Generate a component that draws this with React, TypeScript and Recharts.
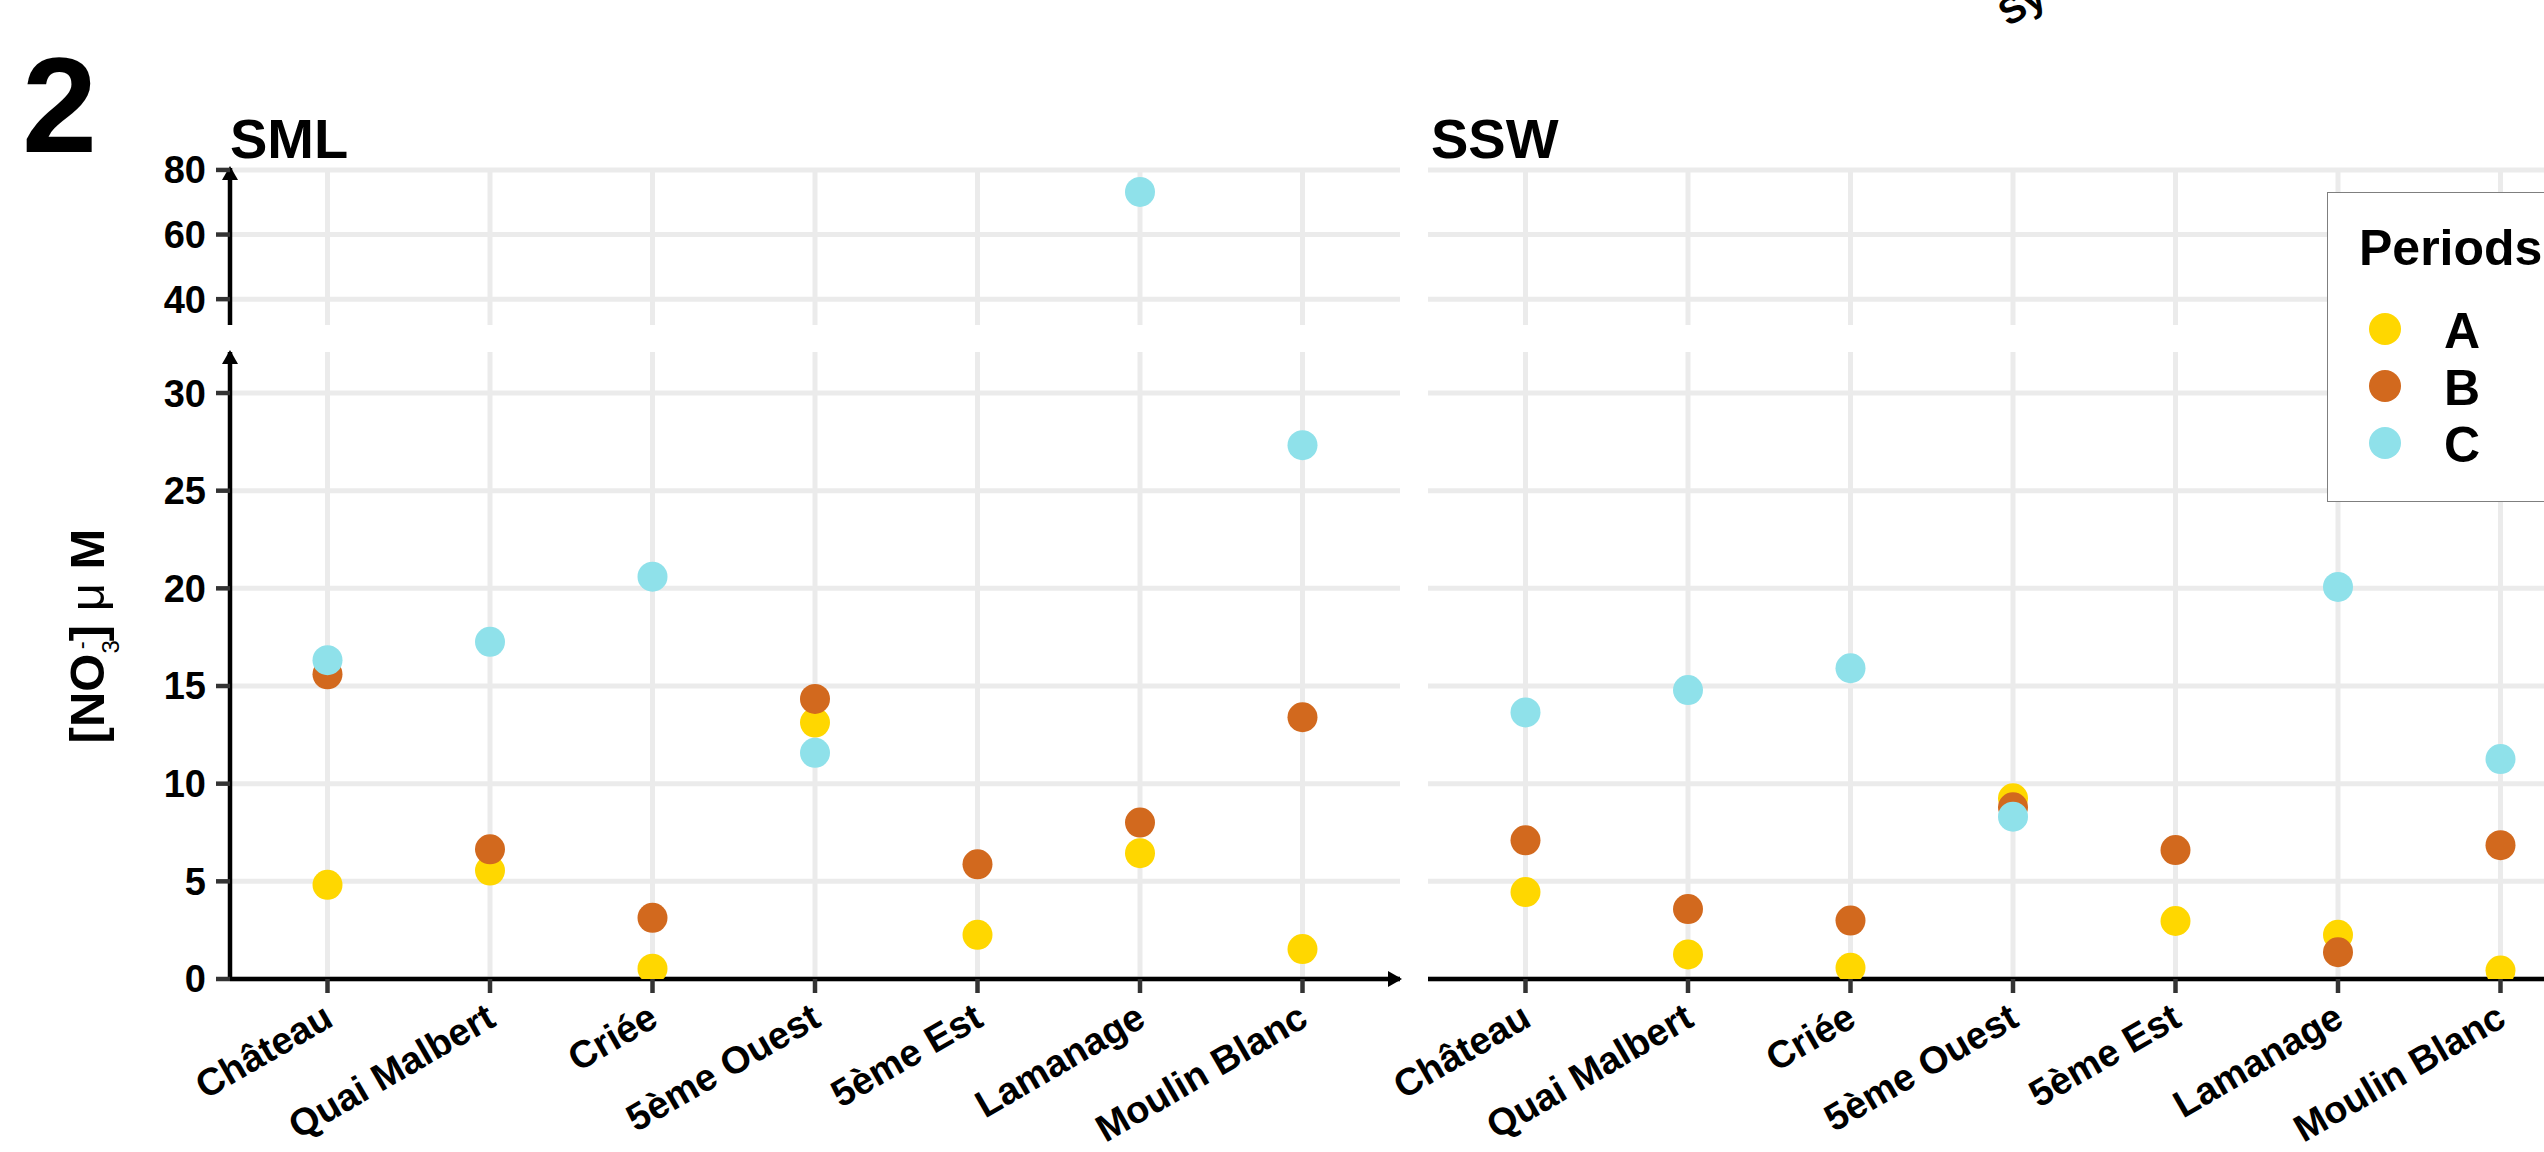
import React from "react";
import { CartesianGrid, Scatter, ScatterChart, XAxis, YAxis } from "recharts";

const sites = ["Château", "Quai Malbert", "Criée", "5ème Ouest", "5ème Est", "Lamanage", "Moulin Blanc"];
const periods = ["A", "B", "C"];
const periodColors = ["#FFD700", "#D2691E", "#8FE1EA"];

// nitrate, µM, one value per site (null = no sample)
const smlA = [4.82, 5.55, 0.53, 13.13, 2.26, 6.44, 1.53];
const smlB = [15.6, 6.64, 3.13, 14.34, 5.87, 8.01, 13.4];
const smlC = [16.32, 17.26, 20.6, 11.58, null, 73.2, 27.33];
const sswA = [4.45, 1.26, 0.57, 9.25, 2.97, 2.26, 0.43];
const sswB = [7.1, 3.58, 2.99, 8.79, 6.6, 1.37, 6.85];
const sswC = [13.65, 14.79, 15.91, 8.31, null, 20.07, 11.26];

const lowTicks = [0, 5, 10, 15, 20, 25, 30];
const highTicks = [40, 60, 80];
const siteTicks = [1, 2, 3, 4, 5, 6, 7];

const BREAK = 32;
const LOW_DOMAIN = [0, 32.1];
const HIGH_DOMAIN = [32, 80.6];
const X_DOMAIN = [0.4, 7.6];

const UP_TOP = 168;
const UP_BOTTOM = 325;
const LOW_TOP = 352;
const LOW_BOTTOM = 979;
const PLOT_W = 1170;

const GRID = "#EBEBEB";
const FONT = "'Liberation Sans', Arial, Helvetica, sans-serif";

type Vals = (number | null)[];

const pick = (vals: Vals, upper: boolean) =>
  vals.flatMap((v, i) => (v == null ? [] : (upper ? v > BREAK : v <= BREAK) ? [{ x: i + 1, y: v }] : []));

const dot = (color: string) => (p: any) => <circle cx={p.cx} cy={p.cy} r={15} fill={color} />;

const axisArrow = { stroke: "#000", strokeWidth: 4.5 };
const tickStyle = { stroke: "#333", strokeWidth: 4.5 };
const tickText = { fill: "#000", fontSize: 38, fontWeight: "bold" as const };
const noTick = () => <g />;

const SiteTick = (props: any) => {
  const { x, y, payload } = props;
  const px = x - 6;
  const py = y + 8;
  return (
    <text
      x={px}
      y={py}
      transform={`rotate(-30 ${px} ${py})`}
      textAnchor="end"
      dy="0.72em"
      fontSize={38}
      fontWeight="bold"
      fill="#000"
    >
      {sites[payload.value - 1]}
    </text>
  );
};

function Facet({ left, series, withY }: { left: number; series: Vals[]; withY: boolean }) {
  // SSW has no visible y axis, but keeps room on the left so its rotated labels are not cut
  const yW = withY ? 230 : 1;
  const mLeft = withY ? 0 : 127;
  const W = mLeft + yW + PLOT_W + 20;

  return (
    <>
      <div style={{ position: "absolute", left, top: UP_TOP - 20 }}>
        <ScatterChart width={W} height={UP_BOTTOM - UP_TOP + 31} margin={{ top: 20, right: 20, bottom: 10, left: mLeft }}>
          <CartesianGrid stroke={GRID} strokeWidth={5} syncWithTicks />
          <XAxis
            type="number"
            dataKey="x"
            domain={X_DOMAIN}
            ticks={siteTicks}
            allowDataOverflow
            interval={0}
            height={1}
            axisLine={false}
            tickLine={false}
            tick={noTick}
          />
          <YAxis
            type="number"
            dataKey="y"
            domain={HIGH_DOMAIN}
            ticks={highTicks}
            allowDataOverflow
            interval={0}
            width={yW}
            axisLine={withY ? { ...axisArrow, markerStart: "url(#axisArrow)" } : false}
            tickLine={withY ? tickStyle : false}
            tick={withY ? tickText : noTick}
            tickSize={14}
            tickMargin={10}
          />
          {series.map((vals, i) => (
            <Scatter
              key={periods[i]}
              name={periods[i]}
              data={pick(vals, true)}
              fill={periodColors[i]}
              shape={dot(periodColors[i])}
              isAnimationActive={false}
            />
          ))}
        </ScatterChart>
      </div>
      <div style={{ position: "absolute", left, top: LOW_TOP - 52 }}>
        <ScatterChart width={W} height={52 + LOW_BOTTOM - LOW_TOP + 172} margin={{ top: 52, right: 20, bottom: 0, left: mLeft }}>
          <CartesianGrid stroke={GRID} strokeWidth={5} syncWithTicks />
          <XAxis
            type="number"
            dataKey="x"
            domain={X_DOMAIN}
            ticks={siteTicks}
            allowDataOverflow
            interval={0}
            height={172}
            axisLine={{ ...axisArrow, markerEnd: "url(#axisArrow)" }}
            tickLine={tickStyle}
            tickSize={14}
            tickMargin={0}
            tick={<SiteTick />}
          />
          <YAxis
            type="number"
            dataKey="y"
            domain={LOW_DOMAIN}
            ticks={lowTicks}
            allowDataOverflow
            interval={0}
            width={yW}
            axisLine={withY ? { ...axisArrow, markerStart: "url(#axisArrow)" } : false}
            tickLine={withY ? tickStyle : false}
            tick={withY ? tickText : noTick}
            tickSize={14}
            tickMargin={10}
          />
          {series.map((vals, i) => (
            <Scatter
              key={periods[i]}
              name={periods[i]}
              data={pick(vals, false)}
              fill={periodColors[i]}
              shape={dot(periodColors[i])}
              isAnimationActive={false}
            />
          ))}
        </ScatterChart>
      </div>
    </>
  );
}

export default function App() {
  return (
    <div
      style={{
        position: "absolute",
        left: 0,
        top: 0,
        width: 2544,
        height: 1152,
        overflow: "hidden",
        background: "#fff",
        fontFamily: FONT,
      }}
    >
      <svg width={0} height={0} style={{ position: "absolute" }}>
        <defs>
          <marker
            id="axisArrow"
            viewBox="0 0 14 16"
            refX={12}
            refY={8}
            markerWidth={14}
            markerHeight={16}
            markerUnits="userSpaceOnUse"
            orient="auto-start-reverse"
          >
            <path d="M0,0 L14,8 L0,16 z" fill="#000" />
          </marker>
        </defs>
      </svg>

      <Facet left={0} series={[smlA, smlB, smlC]} withY />
      <Facet left={1300} series={[sswA, sswB, sswC]} withY={false} />

      <svg width={2544} height={1152} style={{ position: "absolute", left: 0, top: 0, pointerEvents: "none" }}>
        <text x={22} y={152} fontSize={135} fontWeight="bold" fill="#000">2</text>
        <text x={230} y={158} fontSize={56} fontWeight="bold" fill="#000">SML</text>
        <text x={1431} y={158} fontSize={56} fontWeight="bold" fill="#000">SSW</text>
        <text x={2008} y={27} transform="rotate(-30 2008 27)" fontSize={38} fontWeight="bold" fill="#000">Sy</text>
        <text transform="translate(104 636) rotate(-90)" textAnchor="middle" fontSize={49} fontWeight="bold" fill="#000">
          <tspan>[NO</tspan>
          <tspan fontSize={24} fontWeight="normal" dy={15}>3</tspan>
          <tspan fontSize={24} fontWeight="normal" dx={-9} dy={-30}>-</tspan>
          <tspan dy={15}>]</tspan>
          <tspan fontWeight="normal"> μ </tspan>
          <tspan>M</tspan>
        </text>
      </svg>

      <div
        style={{
          position: "absolute",
          left: 2327,
          top: 192,
          width: 300,
          height: 310,
          boxSizing: "border-box",
          border: "1.5px solid #7F7F7F",
          background: "#fff",
        }}
      >
        <svg width={300} height={310} style={{ position: "absolute", left: -1.5, top: -1.5 }}>
          <text x={32} y={73} fontSize={50} fontWeight="bold" fill="#000">Periods</text>
          {periods.map((p, i) => (
            <g key={p}>
              <circle cx={58} cy={137 + i * 57} r={16} fill={periodColors[i]} />
              <text x={117} y={137 + i * 57 + 19} fontSize={50} fontWeight="bold" fill="#000">{p}</text>
            </g>
          ))}
        </svg>
      </div>
    </div>
  );
}
